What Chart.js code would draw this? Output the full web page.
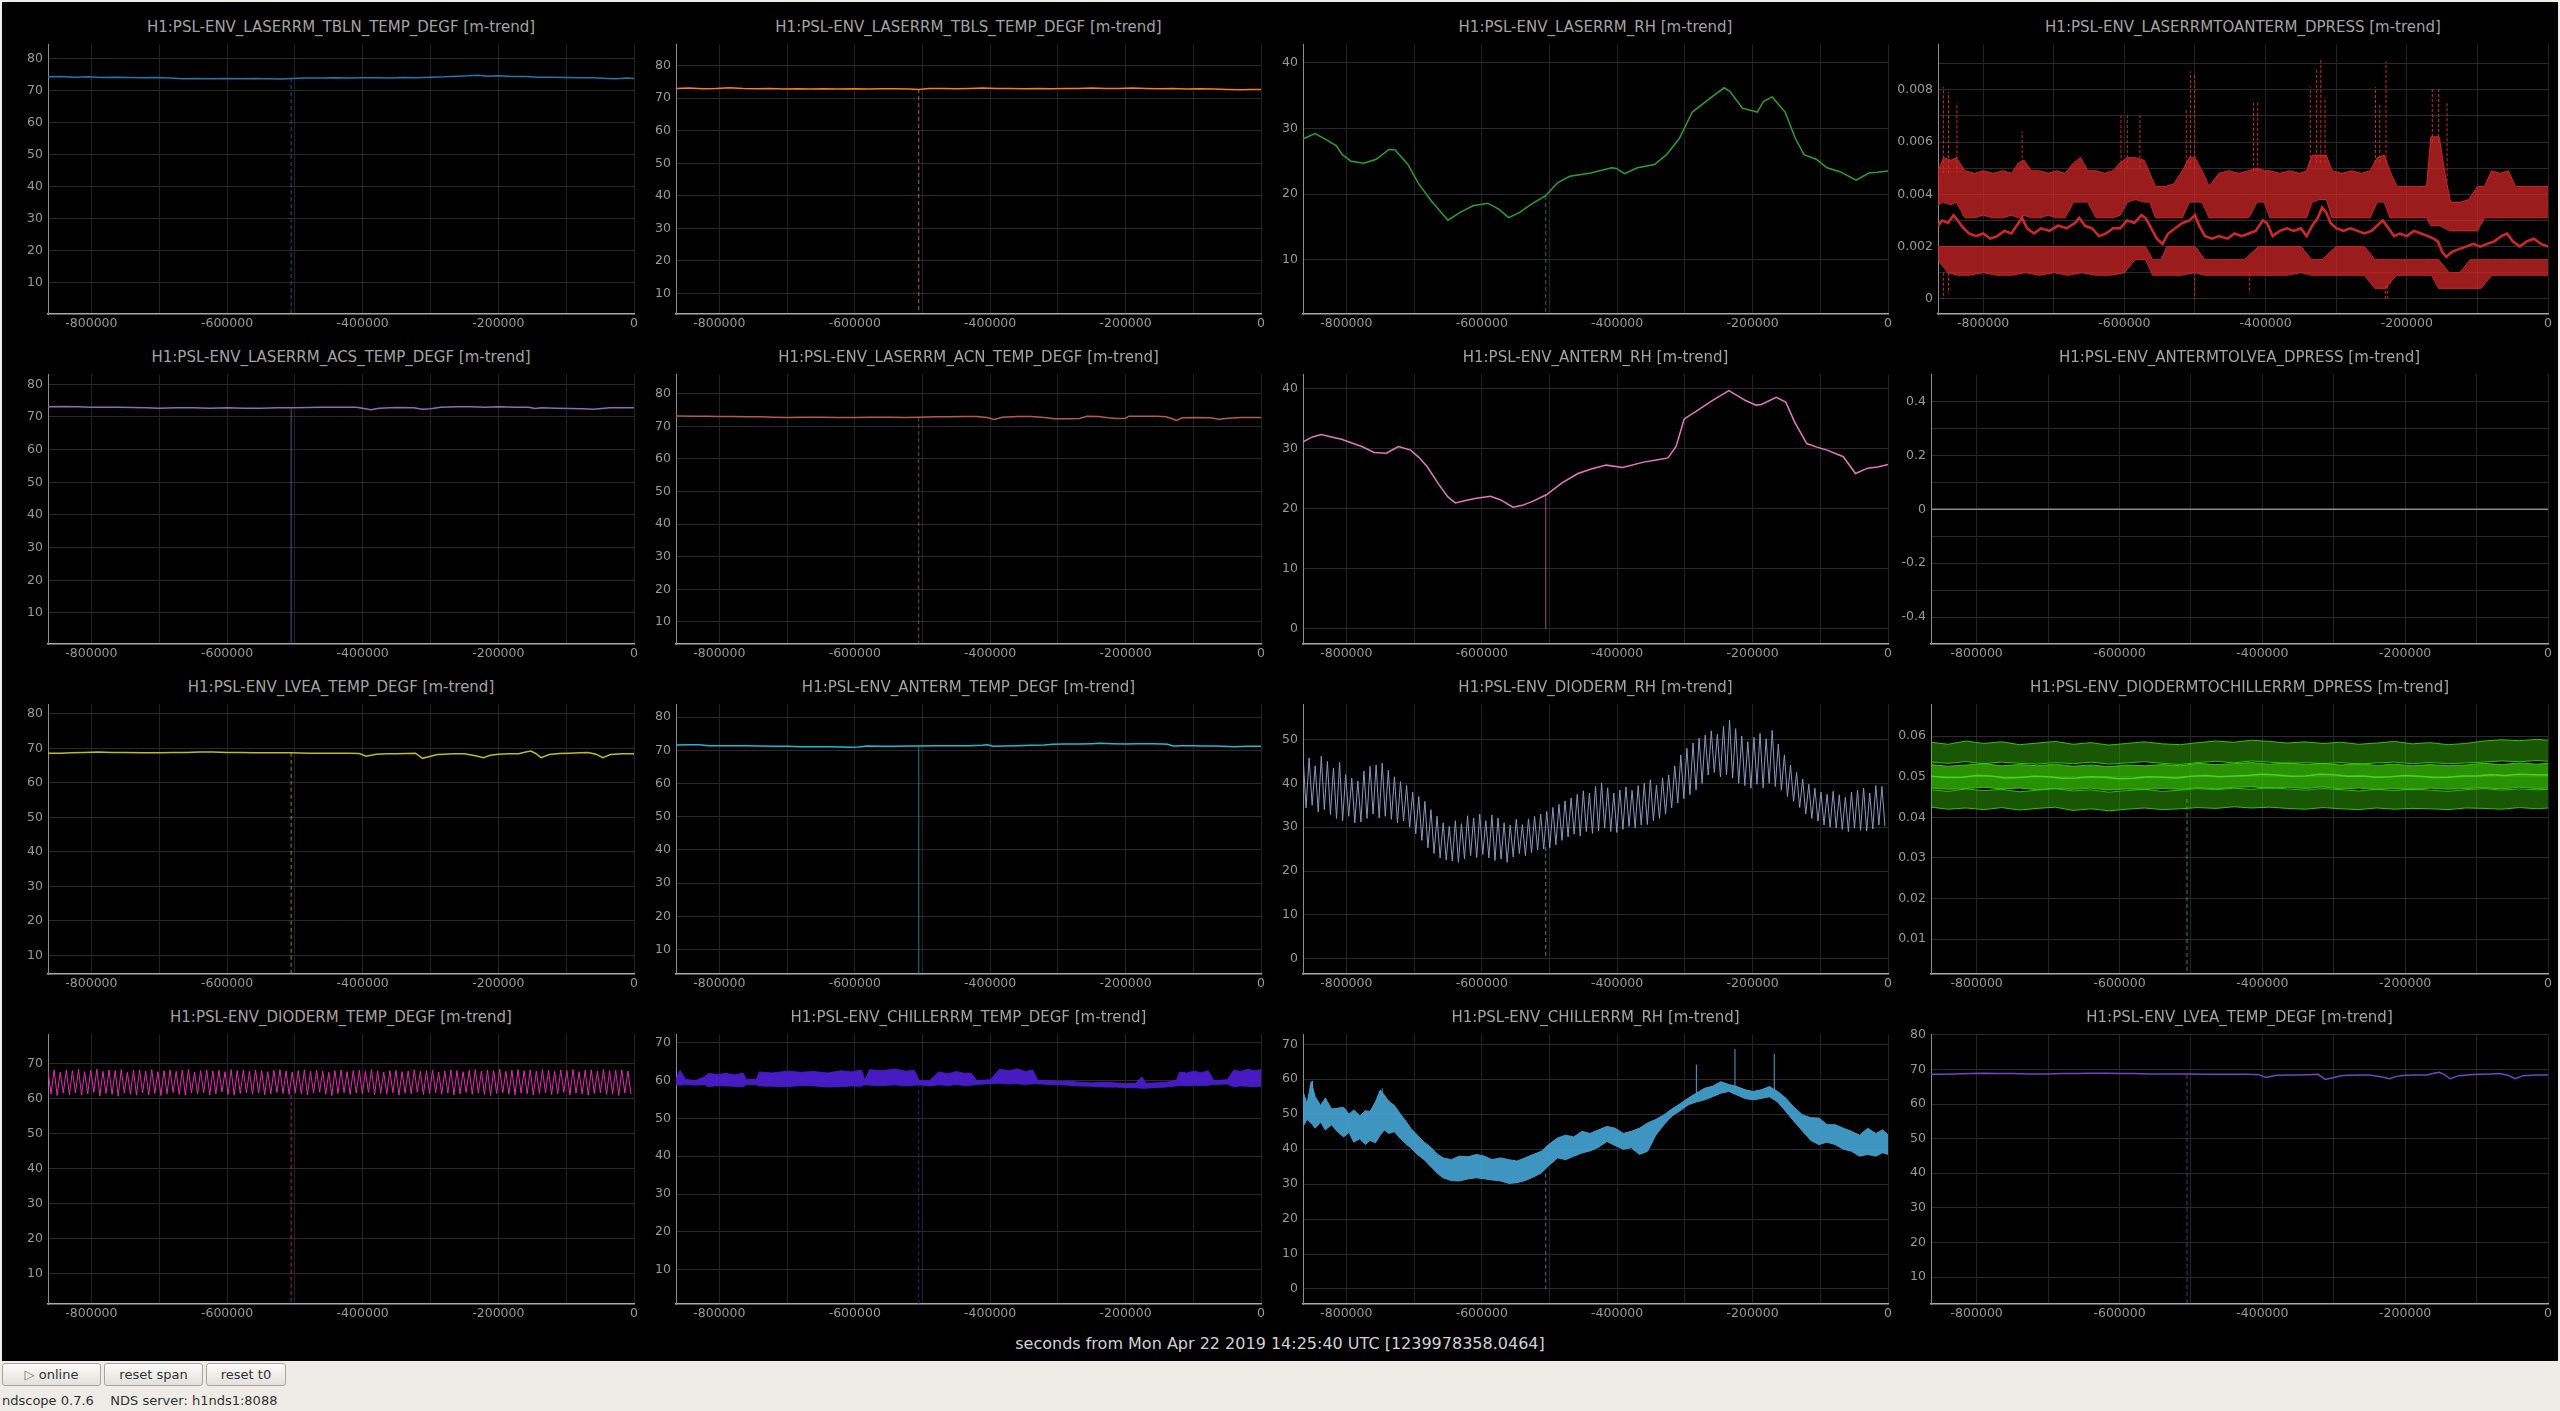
<!DOCTYPE html>
<html>
<head>
<meta charset="utf-8">
<title>ndscope</title>
<script src="https://cdn.jsdelivr.net/npm/chart.js@4.4.1/dist/chart.umd.min.js"></script>
<style>
  html, body { margin: 0; padding: 0; }
  body { width: 2560px; height: 1411px; background: #efebe7; position: relative; overflow: hidden; font-family: "DejaVu Sans", sans-serif; }
  #scope { position: absolute; left: 2px; top: 2px; width: 2556px; height: 1359px; background: #000; }
  .ptitle { position: absolute; height: 20px; line-height: 20px; font-size: 15px; color: #a3a3a3; text-align: center; white-space: nowrap; }
  canvas.panel { position: absolute; }
  #tlabel { position: absolute; left: 0; width: 2560px; top: 1334px; line-height: 20px; font-size: 16px; color: #d2d2d2; text-align: center; }
  .btn { position: absolute; top: 1363px; height: 23px; box-sizing: border-box; border: 1px solid #aaa69f; border-radius: 3px;
         background: linear-gradient(#fbfbfa, #e4e0db); font-size: 13px; line-height: 21px; color: #2e3436; text-align: center; }
  #status { position: absolute; left: 2px; top: 1392px; line-height: 18px; font-size: 13px; color: #2e3436; white-space: pre; }
</style>
</head>
<body>
<div id="scope"></div>
<div id="tlabel"></div>
<div class="btn" style="left:2px;width:99px"><span style="color:#777">&#9655;</span> online</div>
<div class="btn" style="left:104px;width:99px">reset span</div>
<div class="btn" style="left:206px;width:80px">reset t0</div>
<div id="status">ndscope 0.7.6    NDS server: h1nds1:8088</div>
<script>
// time axis (seconds relative to t0), all series times below are in ks
const X_MIN = -864000;
const X_MAX = 0;
const xGridTicks = [-800000, -700000, -600000, -500000, -400000, -300000, -200000, -100000, 0];
const xLabelTicks = [-800000, -600000, -400000, -200000, 0];
const timeLabel = "seconds from Mon Apr 22 2019 14:25:40 UTC [1239978358.0464]";
const dropoutT = -505.5;

// y tick values
const temp80Ticks = [10, 20, 30, 40, 50, 60, 70, 80];
const temp70Ticks = [10, 20, 30, 40, 50, 60, 70];
const rh40Ticks = [10, 20, 30, 40];
const rh40ZeroTicks = [0, 10, 20, 30, 40];
const rh50Ticks = [0, 10, 20, 30, 40, 50];
const rh70Ticks = [0, 10, 20, 30, 40, 50, 60, 70];
const dpLaserGrid = [0, 0.001, 0.002, 0.003, 0.004, 0.005, 0.006, 0.007, 0.008, 0.009];
const dpLaserLabels = [0, 0.002, 0.004, 0.006, 0.008];
const dpAntermGrid = [-0.4, -0.3, -0.2, -0.1, 0, 0.1, 0.2, 0.3, 0.4];
const dpAntermLabels = [-0.4, -0.2, 0, 0.2, 0.4];
const dpDiodeTicks = [0.01, 0.02, 0.03, 0.04, 0.05, 0.06];

// [t ks, value]
const tblnTemp = [[-864,74.4],[-845,74.5],[-825,74.3],[-805,74.4],[-785,74.2],[-765,74.3],[-745,74.2],[-725,74.1],[-705,74.2],[-685,74.0],[-665,73.8],[-645,73.9],[-625,73.8],[-600,73.9],[-580,73.8],[-560,73.9],[-540,73.8],[-520,73.7],[-505,73.9],[-485,74.0],[-460,74.0],[-440,74.1],[-420,74.0],[-400,74.1],[-380,74.1],[-360,74.0],[-340,74.2],[-320,74.1],[-300,74.3],[-280,74.4],[-260,74.6],[-245,74.7],[-230,74.9],[-215,74.6],[-200,74.7],[-180,74.5],[-160,74.5],[-140,74.3],[-120,74.3],[-100,74.2],[-80,74.1],[-60,74.1],[-40,73.9],[-25,73.8],[-10,74.0],[0,73.9]];
const tblsTemp = [[-864,73.0],[-845,73.1],[-825,72.9],[-805,73.0],[-785,73.2],[-765,73.0],[-745,72.9],[-725,73.0],[-705,72.8],[-685,72.9],[-665,72.8],[-645,72.9],[-625,72.8],[-600,72.9],[-580,72.8],[-560,72.9],[-540,72.9],[-520,72.8],[-505,72.7],[-490,73.0],[-470,73.0],[-450,72.9],[-430,73.0],[-410,73.1],[-390,73.0],[-370,73.0],[-350,72.9],[-330,73.0],[-310,72.9],[-290,73.0],[-270,73.0],[-250,73.1],[-230,73.0],[-210,73.0],[-190,73.1],[-170,73.0],[-150,72.9],[-130,73.0],[-110,72.8],[-90,72.9],[-70,72.8],[-50,72.7],[-30,72.6],[-15,72.7],[0,72.7]];
const laserRh = [[-864,28.4],[-846,29.2],[-830,28.3],[-815,27.4],[-806,26.0],[-793,25.0],[-774,24.7],[-756,25.3],[-737,26.8],[-728,26.7],[-709,24.5],[-694,21.7],[-675,19.0],[-650,16.0],[-632,17.2],[-613,18.2],[-591,18.6],[-575,17.7],[-560,16.4],[-544,17.2],[-526,18.5],[-506,19.7],[-488,21.7],[-470,22.7],[-439,23.2],[-408,24.0],[-401,23.9],[-389,23.1],[-370,24.0],[-345,24.5],[-327,26.0],[-308,28.5],[-289,32.5],[-264,34.5],[-242,36.2],[-233,35.6],[-215,33.1],[-193,32.5],[-184,34.1],[-171,34.8],[-152,32.5],[-137,28.5],[-124,26.0],[-106,25.3],[-90,24.0],[-71,23.4],[-47,22.1],[-28,23.2],[-16,23.3],[0,23.5]];
const acsTemp = [[-864,73.1],[-840,73.2],[-820,73.1],[-800,73.0],[-780,73.0],[-760,73.0],[-740,72.9],[-720,72.8],[-700,72.7],[-675,72.8],[-650,72.8],[-625,72.7],[-600,72.8],[-575,72.7],[-550,72.7],[-525,72.8],[-505,72.8],[-480,72.9],[-460,73.0],[-435,73.0],[-410,73.0],[-398,72.6],[-388,72.2],[-376,72.7],[-350,72.9],[-325,72.8],[-312,72.4],[-300,72.5],[-285,73.0],[-260,73.1],[-240,73.1],[-220,73.0],[-200,73.1],[-175,73.0],[-155,73.0],[-146,72.6],[-136,72.8],[-115,72.7],[-95,72.6],[-75,72.5],[-60,72.4],[-48,72.6],[-35,72.8],[-15,72.8],[0,72.8]];
const acnTemp = [[-864,73.2],[-840,73.1],[-820,73.1],[-800,73.0],[-780,73.0],[-760,72.9],[-740,72.9],[-720,72.8],[-700,72.7],[-675,72.8],[-650,72.8],[-625,72.7],[-600,72.7],[-575,72.8],[-550,72.8],[-525,72.7],[-505,72.8],[-480,72.9],[-460,72.9],[-440,73.0],[-420,73.0],[-405,72.7],[-394,72.1],[-382,72.8],[-360,73.0],[-340,73.0],[-320,72.7],[-305,72.3],[-285,72.3],[-268,72.4],[-257,73.1],[-240,73.0],[-226,72.6],[-214,72.4],[-200,72.5],[-195,73.1],[-175,73.1],[-155,73.1],[-140,72.9],[-131,72.3],[-125,71.8],[-116,72.6],[-95,72.7],[-75,72.6],[-62,72.2],[-48,72.5],[-30,72.7],[-15,72.7],[0,72.7]];
const antermRh = [[-864,31.2],[-850,32.0],[-837,32.4],[-822,32.0],[-807,31.6],[-792,31.0],[-777,30.4],[-759,29.4],[-741,29.3],[-731,29.9],[-723,30.4],[-705,29.8],[-693,28.6],[-681,27.1],[-663,24.0],[-650,22.0],[-639,21.0],[-624,21.4],[-608,21.8],[-587,22.1],[-572,21.5],[-554,20.3],[-540,20.6],[-524,21.3],[-504,22.4],[-482,24.3],[-458,25.9],[-437,26.7],[-416,27.3],[-392,26.9],[-361,27.8],[-340,28.2],[-325,28.5],[-313,30.4],[-301,35.0],[-283,36.3],[-259,38.1],[-235,39.7],[-211,38.1],[-195,37.3],[-187,37.4],[-165,38.6],[-151,37.8],[-138,34.5],[-120,30.9],[-105,30.3],[-90,29.8],[-66,28.7],[-48,25.9],[-30,26.8],[-15,27.0],[0,27.4]];
const antermDpress = [[-864,0],[0,0]];
const lveaTemp = [[-864,68.6],[-845,68.6],[-830,68.7],[-810,68.8],[-790,68.9],[-770,68.8],[-750,68.8],[-725,68.7],[-700,68.7],[-680,68.8],[-660,68.8],[-640,68.9],[-620,68.9],[-600,68.8],[-580,68.8],[-560,68.7],[-540,68.7],[-520,68.7],[-505,68.7],[-480,68.6],[-460,68.6],[-440,68.6],[-420,68.6],[-405,68.5],[-395,67.7],[-380,68.3],[-365,68.4],[-350,68.4],[-335,68.5],[-322,68.6],[-312,67.1],[-300,67.7],[-290,68.2],[-280,68.3],[-265,68.4],[-250,68.4],[-232,67.8],[-222,67.3],[-212,68.0],[-200,68.3],[-185,68.4],[-170,68.4],[-158,69.0],[-152,69.2],[-145,68.5],[-137,67.3],[-125,68.2],[-110,68.5],[-95,68.6],[-80,68.7],[-68,68.8],[-56,68.3],[-46,67.3],[-35,68.2],[-18,68.4],[0,68.4]];
const antermTemp = [[-864,71.6],[-845,71.7],[-830,71.7],[-815,71.4],[-800,71.4],[-780,71.4],[-760,71.4],[-740,71.3],[-720,71.2],[-700,71.2],[-680,71.1],[-660,71.1],[-640,71.1],[-622,71.0],[-608,70.9],[-595,71.0],[-582,71.3],[-560,71.2],[-540,71.2],[-520,71.3],[-505,71.3],[-485,71.4],[-470,71.4],[-450,71.4],[-430,71.4],[-412,71.5],[-404,71.7],[-396,71.2],[-380,71.3],[-360,71.4],[-340,71.5],[-320,71.6],[-308,71.8],[-290,71.9],[-270,71.9],[-250,72.0],[-238,72.1],[-220,72.0],[-200,71.9],[-180,72.0],[-160,72.0],[-145,71.9],[-138,71.8],[-130,71.3],[-115,71.4],[-100,71.4],[-85,71.3],[-70,71.3],[-55,71.2],[-40,71.1],[-20,71.2],[0,71.2]];

// evenly spaced oscillation cycles: peak and trough per cycle
const dioRhHi = [46.5,45.8,44.0,46.2,45.0,43.5,44.8,42.0,41.2,40.5,42.8,43.9,44.2,44.6,43.0,41.5,40.4,39.5,38.0,37.0,35.9,34.0,32.5,31.0,30.2,31.5,30.8,32.6,32.1,33.0,31.5,32.8,32.1,31.0,30.5,31.8,30.6,31.9,32.5,33.0,33.6,34.5,35.2,36.0,36.7,37.5,38.3,37.8,39.3,40.1,39.0,37.8,38.5,39.2,38.4,39.5,40.0,40.8,39.6,41.2,41.9,44.0,46.5,48.0,49.2,50.3,51.0,52.0,51.2,53.0,54.4,52.5,50.8,49.5,50.5,51.4,50.2,52.1,49.0,46.5,44.2,42.5,41.0,39.8,38.9,38.0,37.5,38.2,37.4,36.8,38.0,38.4,38.9,37.8,39.5,39.3];
const dioRhLo = [34.4,35.0,33.5,34.0,32.9,32.0,31.5,32.5,31.0,31.2,32.0,33.0,32.1,32.5,31.8,31.0,31.4,30.0,28.5,27.0,25.3,24.0,23.0,22.5,22.3,22.0,22.8,23.5,23.1,23.8,23.0,22.4,22.7,22.0,23.2,24.0,23.5,24.2,24.8,25.0,25.3,26.0,27.0,27.8,28.4,28.0,29.0,28.6,29.1,29.8,29.0,28.8,29.5,30.2,29.8,30.5,30.6,31.5,32.0,33.0,34.4,35.5,36.5,37.4,38.5,40.0,41.9,42.5,41.5,42.0,41.2,40.0,39.5,38.9,39.8,39.0,40.0,39.3,38.5,37.0,35.9,34.5,33.0,32.0,31.4,30.5,30.0,29.8,29.5,29.0,29.8,29.3,29.1,29.6,30.5,30.2];
const dioTempHi = [67.8,68.1,67.5,68.0,67.9,68.2,67.6,68.0,68.3,67.7,68.1,67.9,68.2,67.4,68.0,68.1,67.8,68.2,67.6,67.9,68.1,67.7,68.0,68.2,67.5,67.9,68.1,67.8,68.0,67.6,68.2,67.9,68.0,67.7,68.1,67.9,67.6,68.0,68.2,67.8,67.5,67.9,68.1,67.7,68.0,67.8,67.4,67.9,68.1,67.6,67.9,68.0,67.7,68.2,67.8,67.5,67.9,68.0,67.6,67.8,68.1,67.7,67.9,68.0,67.5,67.8,68.1,67.9,67.6,68.0,68.2,67.8,68.1,67.9,68.3,67.7,68.0,68.2,67.9,68.1,67.8,68.2,68.0,67.7,68.1,67.9,68.2,67.6,68.0,68.1,67.8,68.2,67.9,68.0,68.1,67.8];
const dioTempLo = [61.2,60.8,61.5,61.0,61.6,60.9,61.3,61.7,60.7,61.4,61.1,60.6,61.5,61.2,60.9,61.6,61.0,61.4,60.8,61.3,61.7,61.1,60.9,61.5,61.2,61.6,61.0,61.3,61.8,61.1,60.9,61.4,61.6,61.2,61.5,61.0,61.3,61.7,61.4,61.1,61.6,61.3,61.0,61.5,61.8,61.2,60.8,61.4,61.6,61.1,61.5,61.3,61.7,61.0,61.4,61.2,61.6,60.9,61.5,61.3,61.8,61.1,61.4,61.6,61.2,61.5,61.0,61.3,61.7,61.2,61.5,61.1,60.8,61.4,61.6,61.2,61.0,61.5,61.3,60.9,61.4,61.6,61.1,61.3,61.7,61.0,61.5,61.2,60.9,61.4,61.6,61.1,61.3,60.8,61.5,61.2];

// [t ks, max, min] envelopes
const redMax = [[-864,0.0049,0.0036],[-856,0.0054,0.0037],[-846,0.0053,0.0036],[-838,0.0054,0.0037],[-826,0.0049,0.0031],[-812,0.0048,0.0031],[-800,0.0049,0.0032],[-786,0.0048,0.0031],[-772,0.0049,0.0031],[-760,0.0048,0.0032],[-750,0.0052,0.0031],[-742,0.0053,0.0032],[-732,0.0049,0.0031],[-720,0.0049,0.0031],[-708,0.0048,0.0032],[-696,0.0049,0.0031],[-684,0.0048,0.0031],[-672,0.0052,0.0037],[-662,0.0054,0.0037],[-652,0.0049,0.0037],[-640,0.0049,0.0031],[-628,0.0048,0.0031],[-616,0.0049,0.0031],[-606,0.0052,0.0032],[-596,0.0054,0.0037],[-584,0.0054,0.0038],[-572,0.0053,0.0037],[-564,0.0048,0.0037],[-556,0.0043,0.0031],[-542,0.0043,0.0031],[-530,0.0044,0.0031],[-518,0.0049,0.0031],[-508,0.0054,0.0037],[-500,0.0054,0.0037],[-490,0.0049,0.0037],[-480,0.0043,0.0031],[-466,0.0048,0.0031],[-452,0.0049,0.0031],[-438,0.0048,0.0031],[-424,0.0049,0.0031],[-412,0.0050,0.0037],[-402,0.0049,0.0037],[-394,0.0049,0.0031],[-380,0.0048,0.0031],[-366,0.0049,0.0031],[-352,0.0048,0.0031],[-342,0.0049,0.0031],[-334,0.0055,0.0037],[-324,0.0055,0.0038],[-314,0.0055,0.0038],[-306,0.0049,0.0031],[-292,0.0048,0.0031],[-278,0.0049,0.0031],[-264,0.0048,0.0031],[-252,0.0049,0.0031],[-242,0.0054,0.0037],[-232,0.0055,0.0037],[-224,0.0049,0.0031],[-214,0.0043,0.0031],[-200,0.0043,0.0031],[-186,0.0043,0.0031],[-172,0.0043,0.0031],[-166,0.0062,0.0028],[-154,0.0062,0.0028],[-146,0.0048,0.0027],[-138,0.0037,0.0026],[-124,0.0037,0.0026],[-112,0.0038,0.0026],[-100,0.0043,0.0026],[-90,0.0043,0.0031],[-80,0.0049,0.0031],[-68,0.0048,0.0031],[-56,0.0049,0.0031],[-46,0.0043,0.0031],[-34,0.0043,0.0031],[-20,0.0043,0.0031],[-8,0.0043,0.0031],[0,0.0043,0.0031]];
const redMin = [[-864,0.0020,0.0015],[-850,0.0020,0.0010],[-836,0.0020,0.0009],[-820,0.0020,0.0009],[-800,0.0020,0.0010],[-780,0.0020,0.0009],[-760,0.0020,0.0009],[-740,0.0020,0.0010],[-720,0.0020,0.0009],[-700,0.0020,0.0010],[-680,0.0020,0.0009],[-660,0.0020,0.0010],[-640,0.0020,0.0009],[-620,0.0020,0.0009],[-600,0.0020,0.0010],[-585,0.0020,0.0015],[-570,0.0020,0.0015],[-560,0.0015,0.0009],[-548,0.0015,0.0009],[-540,0.0020,0.0009],[-520,0.0020,0.0009],[-500,0.0020,0.0010],[-486,0.0015,0.0009],[-470,0.0015,0.0009],[-450,0.0015,0.0009],[-430,0.0015,0.0009],[-410,0.0020,0.0009],[-390,0.0020,0.0009],[-370,0.0020,0.0009],[-350,0.0020,0.0010],[-335,0.0015,0.0009],[-320,0.0015,0.0009],[-300,0.0020,0.0009],[-280,0.0020,0.0009],[-260,0.0020,0.0009],[-245,0.0015,0.0004],[-230,0.0015,0.0004],[-215,0.0015,0.0009],[-200,0.0015,0.0009],[-180,0.0015,0.0009],[-165,0.0015,0.0009],[-155,0.0015,0.0004],[-140,0.0010,0.0004],[-125,0.0010,0.0004],[-110,0.0015,0.0004],[-95,0.0015,0.0004],[-80,0.0015,0.0009],[-60,0.0015,0.0009],[-40,0.0015,0.0009],[-20,0.0015,0.0009],[0,0.0015,0.0009]];
const redMean = [[-864,0.0028],[-858,0.0030],[-850,0.0029],[-842,0.0032],[-836,0.0030],[-828,0.0027],[-820,0.0025],[-810,0.0024],[-800,0.0025],[-790,0.0023],[-780,0.0024],[-770,0.0026],[-760,0.0025],[-750,0.0029],[-745,0.0031],[-738,0.0027],[-728,0.0025],[-718,0.0027],[-706,0.0026],[-694,0.0028],[-682,0.0027],[-670,0.0029],[-664,0.0031],[-656,0.0028],[-646,0.0027],[-636,0.0024],[-626,0.0025],[-616,0.0027],[-606,0.0027],[-596,0.0030],[-586,0.0029],[-576,0.0032],[-570,0.0031],[-562,0.0027],[-554,0.0023],[-546,0.0021],[-538,0.0025],[-528,0.0027],[-518,0.0029],[-508,0.0030],[-500,0.0032],[-494,0.0028],[-486,0.0024],[-476,0.0023],[-466,0.0024],[-454,0.0023],[-444,0.0025],[-434,0.0024],[-424,0.0025],[-414,0.0026],[-404,0.0030],[-398,0.0029],[-390,0.0024],[-380,0.0026],[-370,0.0027],[-360,0.0026],[-350,0.0027],[-342,0.0024],[-334,0.0028],[-326,0.0031],[-320,0.0035],[-314,0.0033],[-308,0.0029],[-300,0.0027],[-290,0.0026],[-280,0.0027],[-270,0.0026],[-260,0.0025],[-250,0.0026],[-242,0.0028],[-234,0.0030],[-226,0.0027],[-218,0.0024],[-210,0.0025],[-200,0.0024],[-190,0.0026],[-180,0.0025],[-170,0.0024],[-162,0.0023],[-156,0.0022],[-150,0.0018],[-144,0.0016],[-136,0.0018],[-126,0.0019],[-116,0.0020],[-106,0.0021],[-96,0.0020],[-86,0.0021],[-76,0.0022],[-66,0.0024],[-58,0.0025],[-50,0.0022],[-40,0.0020],[-30,0.0022],[-20,0.0023],[-10,0.0021],[0,0.0020]];
// [t ks, from, to]
const redSpikes = [[-856.3,0.0048,0.0081],[-849.1,0.0048,0.0079],[-837.2,0.0048,0.0075],[-744.8,0.0050,0.0064],[-604.8,0.0050,0.0070],[-595.9,0.0050,0.0070],[-578,0.0050,0.0070],[-512.4,0.0050,0.0073],[-506.5,0.0050,0.0087],[-500.5,0.0050,0.0086],[-417.1,0.0049,0.0075],[-411.2,0.0049,0.0075],[-336.7,0.0052,0.0081],[-327.7,0.0052,0.0088],[-321.8,0.0052,0.0092],[-315.8,0.0052,0.0077],[-244.3,0.0052,0.0081],[-238.3,0.0052,0.0075],[-229.4,0.0052,0.0091],[-163.9,0.0060,0.0081],[-154.9,0.0060,0.0081],[-143,0.0045,0.0075],[-856.3,0.0010,0.0000],[-849.1,0.0010,0.0002],[-500.5,0.0010,0.0000],[-423,0.0010,0.0002],[-230,0.0005,0.0000],[-227,0.0005,0.0000]];

const dioDpTop = [[-864,0.0585,0.0536],[-840,0.0580,0.0533],[-815,0.0588,0.0537],[-790,0.0582,0.0532],[-765,0.0586,0.0536],[-740,0.0579,0.0533],[-715,0.0583,0.0531],[-690,0.0587,0.0535],[-665,0.0580,0.0532],[-640,0.0584,0.0536],[-615,0.0578,0.0531],[-590,0.0582,0.0534],[-565,0.0586,0.0537],[-540,0.0581,0.0533],[-515,0.0579,0.0530],[-490,0.0584,0.0535],[-465,0.0588,0.0538],[-440,0.0585,0.0534],[-415,0.0590,0.0539],[-390,0.0587,0.0536],[-365,0.0583,0.0533],[-340,0.0586,0.0535],[-315,0.0582,0.0532],[-290,0.0585,0.0535],[-265,0.0580,0.0531],[-240,0.0583,0.0534],[-215,0.0587,0.0536],[-190,0.0581,0.0532],[-165,0.0584,0.0535],[-140,0.0579,0.0532],[-115,0.0582,0.0534],[-90,0.0588,0.0536],[-65,0.0591,0.0539],[-40,0.0589,0.0537],[-15,0.0592,0.0540],[0,0.0590,0.0538]];
const dioDpMid = [[-864,0.0530,0.0472],[-840,0.0526,0.0469],[-815,0.0529,0.0471],[-790,0.0532,0.0474],[-765,0.0527,0.0470],[-740,0.0530,0.0472],[-715,0.0527,0.0468],[-690,0.0531,0.0471],[-665,0.0526,0.0469],[-640,0.0529,0.0472],[-615,0.0525,0.0467],[-590,0.0529,0.0470],[-565,0.0527,0.0469],[-540,0.0530,0.0471],[-515,0.0527,0.0469],[-490,0.0533,0.0473],[-465,0.0530,0.0470],[-440,0.0532,0.0474],[-415,0.0535,0.0475],[-390,0.0531,0.0472],[-365,0.0534,0.0474],[-340,0.0530,0.0471],[-315,0.0533,0.0475],[-290,0.0529,0.0470],[-265,0.0532,0.0472],[-240,0.0528,0.0469],[-215,0.0531,0.0471],[-190,0.0527,0.0468],[-165,0.0530,0.0472],[-140,0.0527,0.0469],[-115,0.0529,0.0471],[-90,0.0533,0.0473],[-65,0.0530,0.0470],[-40,0.0534,0.0474],[-15,0.0531,0.0471],[0,0.0533,0.0472]];
const dioDpLow = [[-864,0.0468,0.0425],[-840,0.0464,0.0420],[-815,0.0470,0.0423],[-790,0.0466,0.0419],[-765,0.0469,0.0424],[-740,0.0463,0.0418],[-715,0.0467,0.0422],[-690,0.0471,0.0425],[-665,0.0465,0.0417],[-640,0.0468,0.0421],[-615,0.0462,0.0416],[-590,0.0466,0.0420],[-565,0.0469,0.0423],[-540,0.0464,0.0419],[-515,0.0467,0.0421],[-490,0.0471,0.0424],[-465,0.0468,0.0422],[-440,0.0472,0.0426],[-415,0.0469,0.0423],[-390,0.0473,0.0425],[-365,0.0470,0.0422],[-340,0.0467,0.0420],[-315,0.0471,0.0424],[-290,0.0468,0.0421],[-265,0.0465,0.0419],[-240,0.0469,0.0423],[-215,0.0466,0.0420],[-190,0.0470,0.0422],[-165,0.0467,0.0421],[-140,0.0464,0.0419],[-115,0.0468,0.0423],[-90,0.0471,0.0422],[-65,0.0467,0.0420],[-40,0.0470,0.0424],[-15,0.0468,0.0421],[0,0.0469,0.0423]];
const dioDpMean = [[-864,0.0501],[-842,0.0498],[-820,0.0499],[-800,0.0503],[-780,0.0502],[-760,0.0497],[-740,0.0498],[-720,0.0501],[-700,0.0500],[-680,0.0496],[-660,0.0497],[-640,0.0500],[-620,0.0499],[-600,0.0495],[-580,0.0496],[-560,0.0500],[-540,0.0499],[-520,0.0497],[-500,0.0501],[-480,0.0503],[-460,0.0500],[-440,0.0502],[-420,0.0503],[-400,0.0506],[-380,0.0504],[-360,0.0501],[-340,0.0502],[-320,0.0506],[-300,0.0505],[-280,0.0501],[-260,0.0502],[-240,0.0499],[-220,0.0500],[-200,0.0503],[-180,0.0501],[-160,0.0498],[-140,0.0499],[-120,0.0502],[-100,0.0502],[-80,0.0505],[-60,0.0503],[-40,0.0506],[-20,0.0505],[0,0.0504]];

const chillTemp = [[-864,60.5,59.0],[-858,62.7,58.8],[-850,60.3,59.0],[-835,60.0,58.8],[-822,61.0,59.0],[-816,61.9,58.4],[-803,61.6,58.7],[-790,61.9,58.6],[-777,61.5,58.5],[-765,62.0,58.4],[-760,60.2,59.0],[-745,60.4,58.9],[-741,62.3,58.6],[-722,62.0,58.5],[-700,62.5,58.4],[-680,62.2,58.7],[-660,62.4,58.6],[-640,62.0,58.3],[-620,62.6,58.4],[-605,62.3,58.6],[-590,62.8,58.5],[-585,60.2,59.0],[-578,62.9,58.8],[-560,62.6,58.7],[-540,63.1,58.9],[-525,62.5,58.6],[-512,62.7,58.8],[-505,60.0,58.9],[-490,59.9,58.6],[-476,62.3,58.9],[-462,61.8,58.7],[-450,62.4,59.0],[-438,61.9,58.7],[-428,62.0,58.8],[-420,60.0,59.0],[-400,60.2,59.2],[-386,63.0,59.3],[-372,62.6,59.1],[-360,63.1,59.2],[-348,62.4,59.0],[-337,62.8,59.2],[-330,60.1,59.2],[-315,60.0,59.0],[-300,59.8,58.9],[-285,59.9,58.8],[-270,59.6,58.6],[-250,59.4,58.5],[-230,59.6,58.3],[-215,59.4,58.3],[-200,59.2,58.2],[-185,59.3,58.1],[-176,61.0,58.0],[-170,59.3,58.0],[-155,59.4,58.2],[-140,59.6,58.3],[-125,60.0,58.6],[-120,62.3,58.8],[-110,62.0,58.6],[-100,62.5,58.8],[-88,62.1,58.7],[-78,62.6,58.8],[-70,60.0,59.0],[-50,60.2,59.1],[-40,62.8,58.4],[-30,62.4,58.6],[-20,63.0,58.5],[-10,62.6,58.4],[0,62.9,58.6]];
const chillRh = [[-864,56.5,46.5],[-858,53.0,48.5],[-852,59.3,47.5],[-846,55.0,46.0],[-838,52.5,47.8],[-831,54.6,45.5],[-822,51.5,47.0],[-813,51.7,45.0],[-804,52.0,43.5],[-796,50.0,44.8],[-789,51.2,42.0],[-780,49.5,43.0],[-772,51.0,41.3],[-765,50.8,42.5],[-757,53.5,41.8],[-750,56.9,44.0],[-744,55.5,45.5],[-737,53.6,44.5],[-729,52.5,45.0],[-720,50.0,43.0],[-712,48.0,41.5],[-705,46.0,40.4],[-695,44.0,38.5],[-685,42.0,37.0],[-675,40.5,35.0],[-665,38.5,33.0],[-657,37.5,31.8],[-645,37.0,31.0],[-633,38.0,30.9],[-620,37.8,31.5],[-608,38.5,31.8],[-596,38.0,31.5],[-585,37.0,31.2],[-572,37.5,30.9],[-560,37.0,30.2],[-548,36.6,30.4],[-536,37.5,31.0],[-524,38.5,32.0],[-512,39.4,33.2],[-500,41.5,35.5],[-488,43.2,37.5],[-476,44.0,37.0],[-464,43.5,38.0],[-452,45.1,38.9],[-440,44.5,39.5],[-428,45.5,40.5],[-415,46.5,42.2],[-403,46.0,41.0],[-391,44.5,40.0],[-379,45.1,40.4],[-367,46.0,38.5],[-355,47.5,39.4],[-343,48.5,44.0],[-331,49.8,47.0],[-319,51.5,49.5],[-307,53.0,51.0],[-295,54.6,52.7],[-283,56.0,53.5],[-271,57.4,54.1],[-259,58.0,55.0],[-247,59.3,56.0],[-235,58.5,56.5],[-223,57.9,55.5],[-211,57.0,54.5],[-199,56.5,54.1],[-187,57.0,54.5],[-175,57.9,55.0],[-163,56.5,53.5],[-151,54.6,50.8],[-139,52.0,48.0],[-126,49.8,45.1],[-114,49.0,42.5],[-102,48.9,41.3],[-90,47.0,42.0],[-78,47.0,41.3],[-66,46.0,40.0],[-54,45.1,39.4],[-42,44.0,38.0],[-30,46.0,38.5],[-18,44.5,38.0],[-8,45.5,39.0],[0,44.1,38.5]];
const chillRhSpikes = [[-850,55,59.5],[-747,55,57.4],[-283,55,64.2],[-226,57,68.6],[-168,57,67.3]];

// ---------- helpers ----------
function fade(hex, a) {
  const n = parseInt(hex.slice(1), 16);
  return `rgba(${(n >> 16) & 255},${(n >> 8) & 255},${n & 255},${a})`;
}
function pts(pairs, k) { return pairs.map(p => ({ x: p[0] * 1000, y: p[k || 1] })); }
function line(pairs, color, width) {
  return { data: pts(pairs), borderColor: color, borderWidth: width || 1.5 };
}
function dropout(top, color, dashed) {
  const t = dropoutT * 1000;
  return { data: [{ x: t, y: top }, { x: t, y: 0 }], borderColor: fade(color, dashed ? 0.75 : 0.35), borderWidth: dashed ? 1 : 0.8, borderDash: dashed ? [4, 3] : [] };
}
function band(triples, color, alpha) {
  return [
    { data: pts(triples, 1), borderColor: fade(color, 0.9), borderWidth: 1 },
    { data: pts(triples, 2), borderColor: fade(color, 0.9), borderWidth: 1, fill: '-1', backgroundColor: fade(color, alpha) }
  ];
}
function zigzag(hi, lo, color) {
  const n = Math.min(hi.length, lo.length);
  const step = (X_MAX - X_MIN) / n;
  const data = [];
  for (let i = 0; i < n; i++) {
    data.push({ x: X_MIN + i * step, y: hi[i] });
    data.push({ x: X_MIN + (i + 0.5) * step, y: lo[i] });
  }
  return { data, borderColor: color, borderWidth: 1 };
}
function spikes(list, color, dashed) {
  const data = [];
  list.forEach(s => {
    data.push({ x: s[0] * 1000, y: s[1] }, { x: s[0] * 1000, y: s[2] }, { x: s[0] * 1000, y: null });
  });
  return { data, borderColor: color, borderWidth: 1, borderDash: dashed ? [3, 2] : [], spanGaps: false };
}
function fmt(v) { return String(Number(v.toPrecision(6))); }

// ---------- panels ----------
const panels = [
  { title: "H1:PSL-ENV_LASERRM_TBLN_TEMP_DEGF [m-trend]", color: "#1f77b4", y: [0.3, 84.5], grid: temp80Ticks, labels: temp80Ticks,
    sets: c => [line(tblnTemp, c), dropout(74.0, c, true)] },
  { title: "H1:PSL-ENV_LASERRM_TBLS_TEMP_DEGF [m-trend]", color: "#ff7f0e", y: [3.7, 86.5], grid: temp80Ticks, labels: temp80Ticks,
    sets: c => [line(tblsTemp, c), dropout(72.8, c, true)] },
  { title: "H1:PSL-ENV_LASERRM_RH [m-trend]", color: "#2ca02c", y: [1.7, 42.8], grid: rh40Ticks, labels: rh40Ticks,
    sets: c => [line(laserRh, c), dropout(19.7, c, true)] },
  { title: "H1:PSL-ENV_LASERRMTOANTERM_DPRESS [m-trend]", color: "#d62728", y: [-0.00058, 0.00973], grid: dpLaserGrid, labels: dpLaserLabels,
    sets: c => [...band(redMax, c, 0.72), ...band(redMin, c, 0.72), spikes(redSpikes, c, true), line(redMean, c, 2.5)] },
  { title: "H1:PSL-ENV_LASERRM_ACS_TEMP_DEGF [m-trend]", color: "#9467bd", y: [0.5, 83], grid: temp80Ticks, labels: temp80Ticks,
    sets: c => [line(acsTemp, c), dropout(72.8, c, false)] },
  { title: "H1:PSL-ENV_LASERRM_ACN_TEMP_DEGF [m-trend]", color: "#b05e50", y: [3.2, 85.9], grid: temp80Ticks, labels: temp80Ticks,
    sets: c => [line(acnTemp, c), dropout(72.8, c, true)] },
  { title: "H1:PSL-ENV_ANTERM_RH [m-trend]", color: "#e377c2", y: [-2.5, 42.4], grid: rh40ZeroTicks, labels: rh40ZeroTicks,
    sets: c => [line(antermRh, c), dropout(22.4, c, false)] },
  { title: "H1:PSL-ENV_ANTERMTOLVEA_DPRESS [m-trend]", color: "#8c8c8c", y: [-0.5, 0.5], grid: dpAntermGrid, labels: dpAntermLabels,
    sets: c => [line(antermDpress, c, 1.5)] },
  { title: "H1:PSL-ENV_LVEA_TEMP_DEGF [m-trend]", color: "#bcbd22", y: [4.6, 82.7], grid: temp80Ticks, labels: temp80Ticks,
    sets: c => [line(lveaTemp, c), dropout(68.7, c, true)] },
  { title: "H1:PSL-ENV_ANTERM_TEMP_DEGF [m-trend]", color: "#17becf", y: [2.6, 83.8], grid: temp80Ticks, labels: temp80Ticks,
    sets: c => [line(antermTemp, c), dropout(71.3, c, false)] },
  { title: "H1:PSL-ENV_DIODERM_RH [m-trend]", color: "#8a98c0", y: [-3.5, 58], grid: rh50Ticks, labels: rh50Ticks,
    sets: c => [zigzag(dioRhHi, dioRhLo, c), dropout(25.5, c, true)] },
  { title: "H1:PSL-ENV_DIODERMTOCHILLERRM_DPRESS [m-trend]", color: "#3ccf0a", y: [0.0014, 0.0678], grid: dpDiodeTicks, labels: dpDiodeTicks,
    sets: c => [...band(dioDpTop, c, 0.42), ...band(dioDpLow, c, 0.42), ...band(dioDpMid, c, 0.7), line(dioDpMean, "#5cf020", 1.5), dropout(0.0445, c, true)] },
  { title: "H1:PSL-ENV_DIODERM_TEMP_DEGF [m-trend]", color: "#e62ab4", y: [1.4, 78.2], grid: temp70Ticks, labels: temp70Ticks,
    sets: c => [zigzag(dioTempHi, dioTempLo, c), dropout(61.0, c, true)] },
  { title: "H1:PSL-ENV_CHILLERRM_TEMP_DEGF [m-trend]", color: "#4b1ccc", y: [0.9, 72.2], grid: temp70Ticks, labels: temp70Ticks,
    sets: c => [...band(chillTemp, c, 0.95), dropout(59.3, c, true)] },
  { title: "H1:PSL-ENV_CHILLERRM_RH [m-trend]", color: "#45a5d5", y: [-4.3, 72.8], grid: rh70Ticks, labels: rh70Ticks,
    sets: c => [...band(chillRh, c, 0.9), spikes(chillRhSpikes, c, false), dropout(33.0, c, true)] },
  { title: "H1:PSL-ENV_LVEA_TEMP_DEGF [m-trend]", color: "#7444c4", y: [2.2, 80.1], grid: temp80Ticks, labels: temp80Ticks,
    sets: c => [line(lveaTemp, c), dropout(68.4, c, true)] }
];

// plot-area edges in page pixels
const colEdges = [[48, 634], [676, 1261], [1303, 1888], [1931, 2548]];
const rowEdges = [[42, 314], [372, 644], [702, 974], [1032, 1304]];
const AXIS_W = 60, AXIS_H = 30, PAD_T = 10, PAD_R = 10;

Chart.defaults.font.family = '"DejaVu Sans", sans-serif';

panels.forEach((p, i) => {
  const col = colEdges[i % 4], row = rowEdges[Math.floor(i / 4)];
  const left = (i === 3) ? 1938 : col[0];
  const right = col[1];
  const w = right - left, h = row[1] - row[0];

  const title = document.createElement('div');
  title.className = 'ptitle';
  title.textContent = p.title;
  title.style.left = left + 'px';
  title.style.width = w + 'px';
  title.style.top = (row[0] - 25) + 'px';
  document.body.appendChild(title);

  const cv = document.createElement('canvas');
  cv.className = 'panel';
  cv.width = AXIS_W + w + PAD_R;
  cv.height = PAD_T + h + AXIS_H;
  cv.style.left = (left - AXIS_W) + 'px';
  cv.style.top = (row[0] - PAD_T) + 'px';
  cv.style.width = cv.width + 'px';
  cv.style.height = cv.height + 'px';
  document.body.appendChild(cv);

  new Chart(cv, {
    type: 'line',
    data: { datasets: p.sets(p.color) },
    options: {
      responsive: false,
      animation: false,
      events: [],
      layout: { padding: { top: PAD_T, right: PAD_R, left: 0, bottom: 0 } },
      elements: { point: { radius: 0 }, line: { tension: 0, fill: false } },
      plugins: { legend: { display: false }, tooltip: { enabled: false } },
      scales: {
        x: {
          type: 'linear', min: X_MIN, max: X_MAX,
          afterBuildTicks: s => { s.ticks = xGridTicks.map(v => ({ value: v })); },
          afterFit: s => { s.height = AXIS_H; },
          ticks: { color: '#999999', font: { size: 12.5 }, padding: 2, maxRotation: 0, autoSkip: false,
                   callback: v => xLabelTicks.includes(v) ? String(v) : '' },
          grid: { color: '#232323', drawTicks: false },
          border: { color: '#a8a8a8', width: 1.5 }
        },
        y: {
          type: 'linear', min: p.y[0], max: p.y[1],
          afterBuildTicks: s => { s.ticks = p.grid.map(v => ({ value: v })); },
          afterFit: s => { s.width = AXIS_W; },
          ticks: { color: '#999999', font: { size: 12.5 }, padding: 5, autoSkip: false,
                   callback: v => p.labels.some(l => Math.abs(l - v) < 1e-9) ? fmt(v) : '' },
          grid: { color: '#2a2a2a', drawTicks: false },
          border: { color: '#8c8c8c', width: 1 }
        }
      }
    }
  });
});

document.getElementById('tlabel').textContent = timeLabel;
</script>
</body>
</html>
